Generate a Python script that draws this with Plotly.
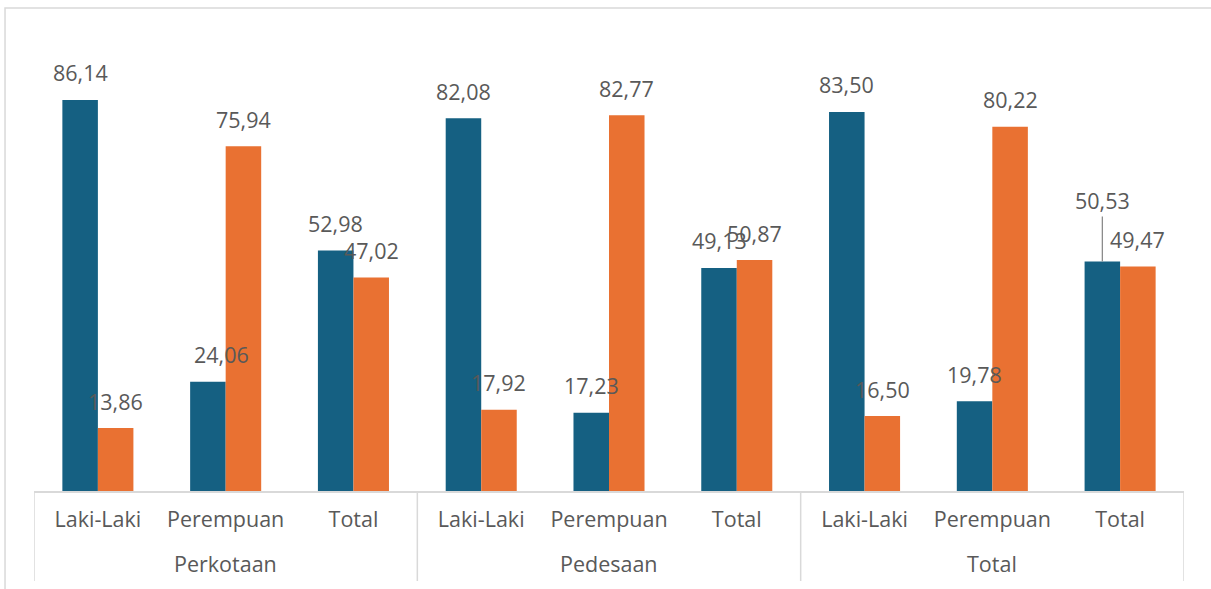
import plotly.graph_objects as go

areas = ["Perkotaan", "Pedesaan", "Total"]
genders = ["Laki-Laki", "Perempuan", "Total"]
blue_vals = [86.14, 24.06, 52.98, 82.08, 17.23, 49.13, 83.50, 19.78, 50.53]
orange_vals = [13.86, 75.94, 47.02, 17.92, 82.77, 50.87, 16.50, 80.22, 49.47]

inner = [g for a in areas for g in genders]
xpos = list(range(len(inner)))

BLUE = "#156082"
ORANGE = "#E97132"
TEXT = "#595959"
LINE = "#D9D9D9"
FONT = "Open Sans"
FS = 21.5
BARGAP = 0.444
PLOT_H = 589 - 37 - 98

fig = go.Figure()
fig.add_trace(go.Bar(x=xpos, y=blue_vals, marker_color=BLUE,
                     marker_line_width=0, name="Seri 1"))
fig.add_trace(go.Bar(x=xpos, y=orange_vals, marker_color=ORANGE,
                     marker_line_width=0, name="Seri 2"))

def fmt(v):
    return f"{v:.2f}".replace(".", ",")

half = (1 - BARGAP) / 4
label_font = dict(family=FONT, size=FS, color=TEXT)
annotations = []
for s, vals in enumerate([blue_vals, orange_vals]):
    for i, v in enumerate(vals):
        xp = i - half if s == 0 else i + half
        a = dict(x=xp, y=v, xref="x", yref="y", text=fmt(v), font=label_font,
                 showarrow=False, yshift=27, xanchor="center", yanchor="middle")
        if s == 0 and i == 1:
            a["xshift"] = 14
        if s == 0 and i == 8:
            a.update(showarrow=True, ax=0, ay=-61, arrowhead=0, arrowwidth=1.3,
                     arrowcolor="#8C8C8C", standoff=0, yshift=0)
        annotations.append(a)

n = len(genders)
for k, area in enumerate(areas):
    annotations.append(dict(x=k * n + (n - 1) / 2, y=0, xref="x", yref="paper",
                            text=area, font=label_font, showarrow=False,
                            yshift=-72, xanchor="center", yanchor="middle"))

shapes = [dict(type="rect", xref="paper", yref="paper",
               x0=-0.0252, x1=1.2, y0=-0.5, y1=1.064,
               line=dict(color=LINE, width=1.5), fillcolor="rgba(0,0,0,0)", layer="below")]
for k in range(len(areas) + 1):
    shapes.append(dict(type="line", xref="x", yref="paper",
                       x0=k * n - 0.5, x1=k * n - 0.5, y0=0, y1=-90 / PLOT_H,
                       line=dict(color=LINE, width=1.5)))

fig.update_layout(
    width=1211, height=589,
    margin=dict(l=34, r=27, t=37, b=98),
    paper_bgcolor="white", plot_bgcolor="white",
    barmode="group", bargap=BARGAP, bargroupgap=0,
    showlegend=False,
    annotations=annotations,
    shapes=shapes,
    font=dict(family=FONT, color=TEXT),
)
fig.update_xaxes(range=[-0.5, len(inner) - 0.5], tickvals=xpos, ticktext=inner,
                 showline=True, linecolor=LINE, linewidth=1.5,
                 ticks="", showgrid=False, zeroline=False, ticklabelstandoff=8,
                 tickfont=dict(family=FONT, size=FS, color=TEXT))
fig.update_yaxes(visible=False, range=[0, 100], showgrid=False, zeroline=False)

fig.write_html("out.html", config={"displayModeBar": False},
               post_script="document.body.style.margin='0';")
